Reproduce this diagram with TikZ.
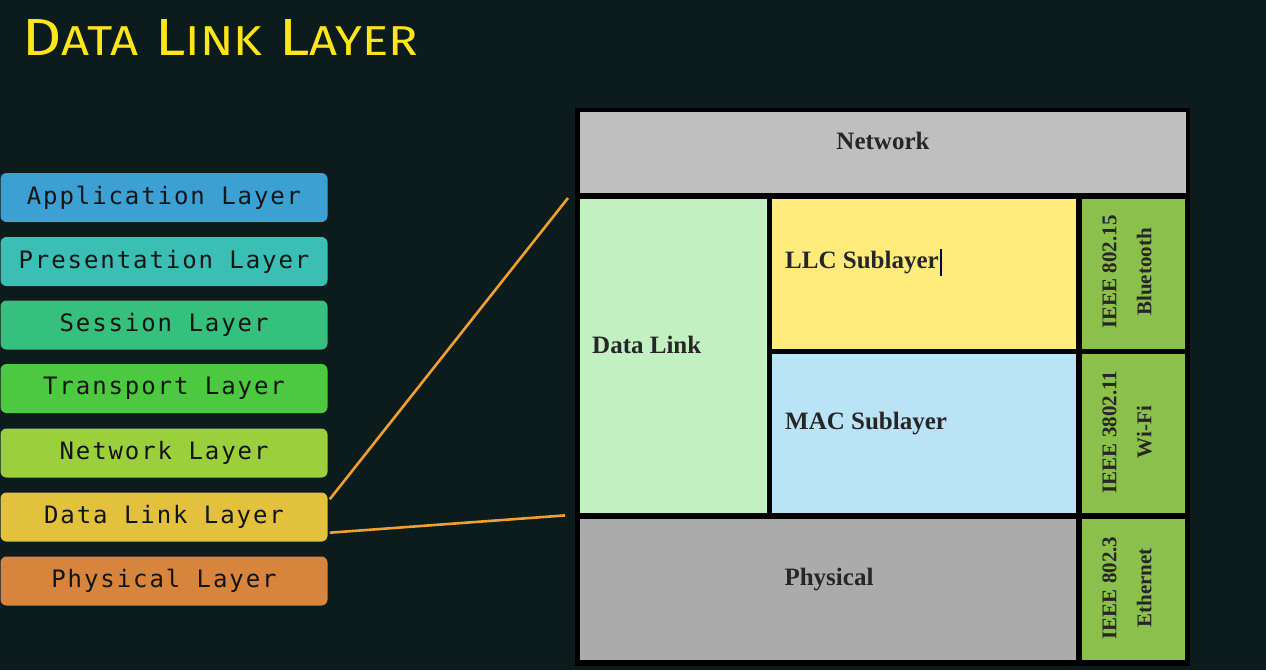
\documentclass[tikz,border=0pt]{standalone}
\usepackage{graphicx}
\usepackage{fontspec}
\setmainfont{Liberation Serif}
\newfontfamily\monof[LetterSpace=8]{DejaVu Sans Mono}
\newfontfamily\titlef{Fira Sans}
\definecolor{bgc}{HTML}{0C1B1C}
\definecolor{ttl}{HTML}{FFE61C}
\definecolor{cApp}{HTML}{3DA0D3}
\definecolor{cPre}{HTML}{3BBFB5}
\definecolor{cSes}{HTML}{36C07D}
\definecolor{cTra}{HTML}{4CC940}
\definecolor{cNet}{HTML}{9CCF3C}
\definecolor{cDll}{HTML}{E2C23D}
\definecolor{cPhy}{HTML}{D7843C}
\definecolor{gNet}{HTML}{BFBFBF}
\definecolor{gDl}{HTML}{C3F0C3}
\definecolor{gLlc}{HTML}{FFEC7C}
\definecolor{gMac}{HTML}{BBE3F6}
\definecolor{gPhy}{HTML}{ABABAB}
\definecolor{gStd}{HTML}{8CC04C}
\definecolor{linec}{HTML}{F0A030}
\newcommand\titlesc[2]{{\fontsize{50}{50}\selectfont #1}{\fontsize{40}{40}\selectfont #2}}
\begin{document}
\begin{tikzpicture}[x=1pt,y=-1pt,
  layerbox/.style={draw=none,rounded corners=6pt,minimum width=327pt,minimum height=49pt,inner sep=0pt,
     font=\monof\fontsize{24}{24}\selectfont,text=black!92},
  cell/.style={draw=none,inner sep=0pt,anchor=north west},
  celltext/.style={font=\bfseries\fontsize{25}{25}\selectfont,text=black!85,inner sep=0pt},
  stdtext/.style={font=\bfseries\fontsize{21}{35}\selectfont,text=black!85,rotate=90,align=center,inner sep=0pt},
  link/.style={draw=linec,line width=2.6pt}]
\fill[bgc] (0,0) rectangle (1266,670);
\useasboundingbox (0,0) rectangle (1266,670);
% title
\node[anchor=south west,inner sep=0pt,text=ttl,font=\titlef] (title) at (22,56)
  {\resizebox{396pt}{36pt}{\titlesc{D}{ATA}\hspace{14pt}\titlesc{L}{INK}\hspace{14pt}\titlesc{L}{AYER}}};
% left stack
\node[layerbox,fill=cApp] (app) at (164,197.5) {Application Layer};
\node[layerbox,fill=cPre] (pre) at (164,261.5) {Presentation Layer};
\node[layerbox,fill=cSes] (ses) at (164,325) {Session Layer};
\node[layerbox,fill=cTra] (tra) at (164,388.5) {Transport Layer};
\node[layerbox,fill=cNet] (net) at (164,453) {Network Layer};
\node[layerbox,fill=cDll] (dll) at (164,517) {Data Link Layer};
\node[layerbox,fill=cPhy] (phy) at (164,581) {Physical Layer};
% right diagram frame
\fill[black] (575,108) rectangle (1190,666);
\node[cell,fill=gNet,minimum width=606pt,minimum height=81pt] (netc) at (580,112) {};
\node[cell,fill=gDl,minimum width=187pt,minimum height=314pt] (dlc) at (580,199) {};
\node[cell,fill=gLlc,minimum width=304pt,minimum height=150pt] (llc) at (772,199) {};
\node[cell,fill=gMac,minimum width=304pt,minimum height=159pt] (mac) at (772,354) {};
\node[cell,fill=gPhy,minimum width=496pt,minimum height=141pt] (phc) at (580,519) {};
\node[cell,fill=gStd,minimum width=103pt,minimum height=150pt] (bt) at (1082,199) {};
\node[cell,fill=gStd,minimum width=103pt,minimum height=159pt] (wifi) at (1082,354) {};
\node[cell,fill=gStd,minimum width=103pt,minimum height=141pt] (eth) at (1082,519) {};
% texts
\node[celltext] (tnet) at (883,141) {Network};
\node[celltext,anchor=west] (tdl) at (592,345) {Data Link};
\node[celltext,anchor=west] (tllc) at (785,263) {LLC Sublayer};
\node[celltext,anchor=west] (tmac) at (785,424) {MAC Sublayer};
\node[celltext] (tphy) at (829,580) {Physical};
\node[stdtext] (tbt) at (1127,272) {IEEE 802.15\\Bluetooth};
\node[stdtext] (twifi) at (1127,432) {IEEE 3802.11\\Wi-Fi};
\node[stdtext] (teth) at (1127,588) {IEEE 802.3\\Ethernet};
% text cursor
\draw[line width=1.3pt,draw=blue!30!black] ([xshift=2pt,yshift=-13pt]tllc.east) -- ([xshift=2pt,yshift=14pt]tllc.east);
% connectors
\coordinate (e1) at ([xshift=-12pt,yshift=1pt]dlc.north west);
\coordinate (e2) at ([xshift=-15pt,yshift=-2pt]dlc.south west);
\draw[link] ([xshift=2pt,yshift=-7pt]dll.north east) -- (e1);
\draw[link] ([xshift=2pt,yshift=9pt]dll.south east) -- (e2);
\end{tikzpicture}
\end{document}
